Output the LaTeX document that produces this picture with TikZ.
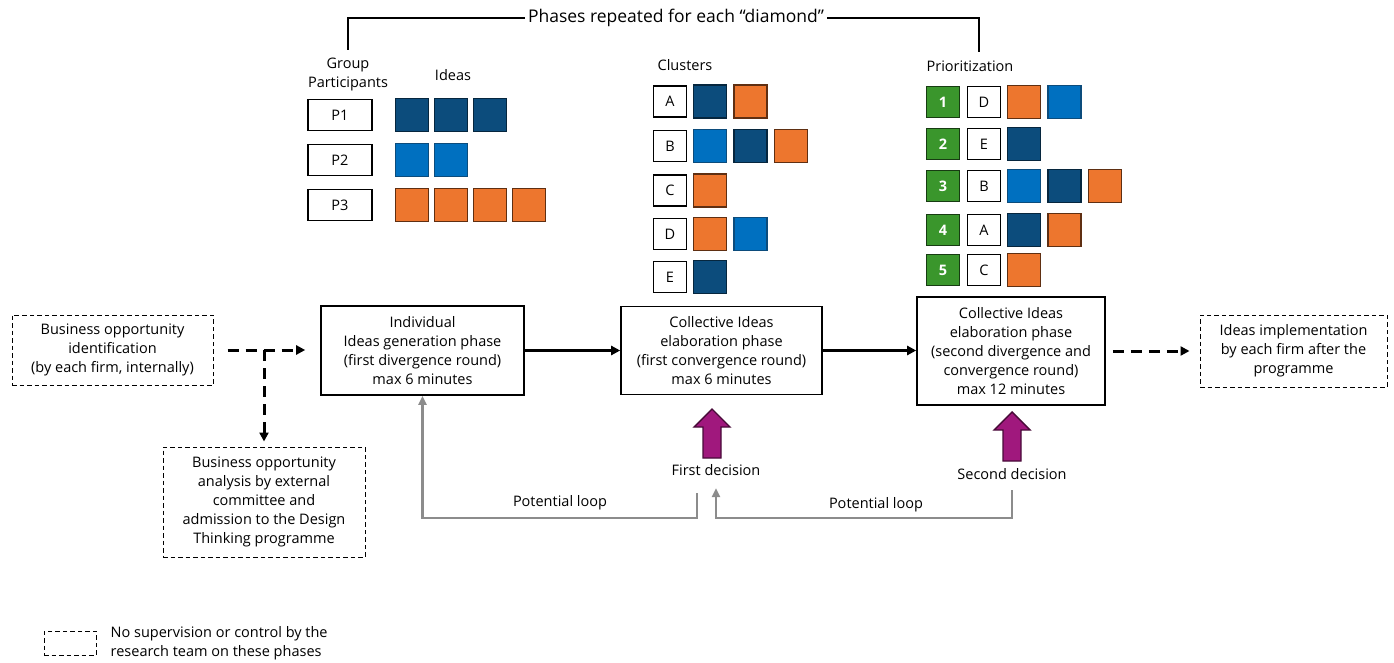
\documentclass[tikz,border=0pt]{standalone}
\usepackage{fontspec}
\setmainfont{Open Sans}
\usetikzlibrary{arrows.meta,positioning}
\definecolor{ideadark}{RGB}{12,76,124}
\definecolor{idealight}{RGB}{0,112,192}
\definecolor{ideaorange}{RGB}{237,118,46}
\definecolor{rankgreen}{RGB}{58,150,44}
\definecolor{decpurple}{RGB}{160,24,125}
\definecolor{loopgray}{RGB}{140,140,140}

\begin{document}
\begin{tikzpicture}[x=1pt,y=-1pt,
  font=\fontsize{14.5}{19}\selectfont,
  phase/.style={draw,line width=1.6pt,align=center,inner sep=2pt},
  freephase/.style={phase,line width=1pt,dash pattern=on 4.5pt off 3pt},
  tag/.style={draw,line width=1.3pt,minimum width=33,minimum height=31,inner sep=0pt},
  rank/.style={tag,fill=rankgreen,draw=rankgreen!40!black,text=white,font=\fontsize{14.5}{16}\selectfont\bfseries},
  idea/.style={minimum size=33,inner sep=0pt,line width=1.6pt},
  darkidea/.style={idea,fill=ideadark,draw=ideadark!50!black},
  lightidea/.style={idea,fill=idealight,draw=ideadark},
  orangeidea/.style={idea,fill=ideaorange,draw=ideaorange!40!black},
  flow/.style={-{Triangle[length=9pt,width=9pt]},line width=2.4pt},
  dashflow/.style={flow,line width=3pt,dash pattern=on 11pt off 7pt},
  loopline/.style={-{Triangle[length=9pt,width=8pt]},line width=2.6pt,draw=loopgray},
  decision/.style={draw=decpurple!45!black,fill=decpurple,line width=1.4pt,line join=miter}]
\useasboundingbox (0,0) rectangle (1394,663);

\draw[line width=2.6pt] (348,50) |- (979,18) -- (979,52);
\node[fill=white,font=\fontsize{17.5}{20}\selectfont] (phases) at (676,18) {Phases repeated for each “diamond”};

\node[align=center] (group) at (348,74) {Group\\Participants};
\node (ideas) at (453,75) {Ideas};
\node (clusters) at (685,65) {Clusters};
\node (prior) at (970,66) {Prioritization};

\foreach \row/\y/\cols in {1/115/{darkidea,darkidea,darkidea},2/160/{lightidea,lightidea},3/205/{orangeidea,orangeidea,orangeidea,orangeidea}}{
  \node[tag,minimum width=64] (p\row) at (340,\y) {P\row};
  \foreach \c [count=\i] in \cols
    \node[\c] (p\row-\i) at (373+39*\i,\y) {};
}

\foreach \lab/\y/\cols in {A/101.5/{darkidea,orangeidea},B/146/{lightidea,darkidea,orangeidea},C/190.5/{orangeidea},D/234/{orangeidea,lightidea},E/277/{darkidea}}{
  \node[tag] (c\lab) at (670,\y) {\lab};
  \foreach \c [count=\i] in \cols
    \node[\c] (c\lab-\i) at (669.5+40.5*\i,\y) {};
}

\foreach \n/\lab/\y/\cols in {1/D/102/{orangeidea,lightidea},2/E/144/{darkidea},3/B/186/{lightidea,darkidea,orangeidea},4/A/230/{darkidea,orangeidea},5/C/270/{orangeidea}}{
  \node[rank] (r\n) at (943,\y) {\n};
  \node[tag] (r\n-\lab) at (984,\y) {\lab};
  \foreach \c [count=\i] in \cols
    \node[\c] (r\n-\i) at (983.5+40.5*\i,\y) {};
}

\node[freephase,minimum width=201,minimum height=70] (bizid) at (112.5,350) {Business opportunity\\identification\\(by each firm, internally)};
\node[phase,minimum width=203,minimum height=89] (indiv) at (422.5,350.5) {Individual\\Ideas generation phase\\(first divergence round)\\max 6 minutes};
\node[phase,minimum width=201,minimum height=88] (coll1) at (721.5,350.5) {Collective Ideas\\elaboration phase\\(first convergence round)\\max 6 minutes};
\node[phase,minimum width=188,minimum height=108] (coll2) at (1011,351) {Collective Ideas\\elaboration phase\\(second divergence and\\convergence round)\\max 12 minutes};
\node[freephase,minimum width=187,minimum height=72] (impl) at (1293.5,351) {Ideas implementation\\by each firm after the\\programme};
\node[freephase,minimum width=202,minimum height=110] (analysis) at (264,502) {Business opportunity\\analysis by external\\committee and\\admission to the Design\\Thinking programme};

\coordinate (split) at (264,350);
\draw[dashflow,shorten <=14pt,shorten >=15pt] (bizid.east) -- (bizid.east -| indiv.west);
\draw[dashflow,shorten >=5pt] (split) -- (analysis.north);
\draw[flow] (indiv.east) -- (indiv.east -| coll1.west);
\draw[flow] (coll1.east) -- (coll1.east -| coll2.west);
\draw[dashflow,shorten <=7pt,shorten >=10pt] (coll2.east) -- (coll2.east -| impl.west);

\coordinate (dec1) at (712,458);
\coordinate (dec2) at (1012,461);
\foreach \d in {dec1,dec2}
  \draw[decision] (\d) ++(-9,0) -- ++(0,-31) -- ++(-9,0) -- ++(18,-18) -- ++(18,18) -- ++(-9,0) -- ++(0,31) -- cycle;
\node (firstdec) at (716,470) {First decision};
\node (seconddec) at (1012,474) {Second decision};

\coordinate (l1) at (697,493);
\coordinate (l2) at (1012,490);
\draw[loopline] (l1) -- ++(0,25) -| (indiv.south);
\draw[loopline,shorten >=9pt] (l2) -- ++(0,28) -| (firstdec.south);
\node (loop1) at (560,503) {Potential loop};
\node (loop2) at (876,505) {Potential loop};

\node[freephase,minimum width=52,minimum height=24] (legbox) at (70,643) {};
\node[right=14pt of legbox,align=left,inner sep=0pt] (legtext) {No supervision or control by the\\research team on these phases};
\end{tikzpicture}
\end{document}
